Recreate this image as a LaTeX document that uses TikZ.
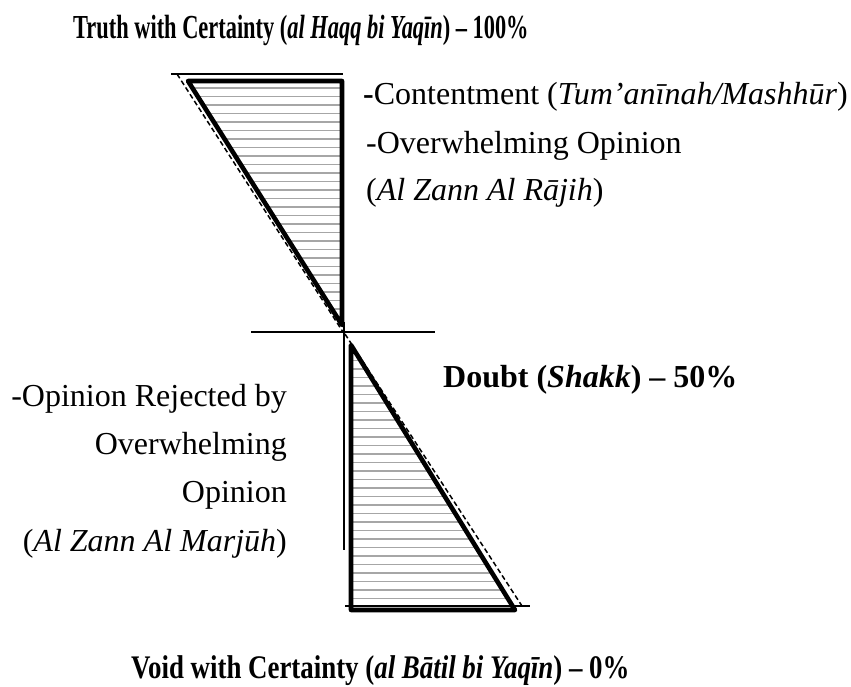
\documentclass[tikz,border=0pt]{standalone}
\usepackage{fontspec}
\setmainfont{Liberation Serif}
\usepackage{graphicx}
\begin{document}
\begin{tikzpicture}[x=1pt,y=-1pt,
  thinline/.style={line width=1.8pt},
  thickline/.style={line width=4.6pt,line join=round},
  dashline/.style={line width=1.5pt,dash pattern=on 5pt off 3pt},
  hatchline/.style={line width=1.8pt,draw=black!35},
  lbl/.style={inner sep=0pt,font=\fontsize{32}{38}\selectfont},
]
\useasboundingbox (0,0) rectangle (851,686);
\fill[white] (0,0) rectangle (851,686);

% upper triangle vertices
\coordinate (ua) at (188,81);
\coordinate (ub) at (342,81);
\coordinate (uc) at (342,325);
% lower triangle vertices
\coordinate (la) at (351,345);
\coordinate (lb) at (351,610);
\coordinate (lc) at (515,610);

% hatching
\begin{scope}
  \clip (ua) -- (ub) -- (uc) -- cycle;
  \foreach \yy in {88,96.5,...,323} \draw[hatchline] (150,\yy) -- (360,\yy);
\end{scope}
\begin{scope}
  \clip (la) -- (lb) -- (lc) -- cycle;
  \foreach \yy in {352,360.5,...,606} \draw[hatchline] (340,\yy) -- (540,\yy);
\end{scope}

% guide lines
\coordinate (t1) at (171,74); \coordinate (t2) at (343,74);
\coordinate (m1) at (251,332); \coordinate (m2) at (435,332);
\coordinate (b1) at (345,606); \coordinate (b2) at (530,606);
\coordinate (v1) at (344,322); \coordinate (v2) at (344,550);
\draw[thinline] (t1) -- (t2);
\draw[thinline] (m1) -- (m2);
\draw[thinline] (b1) -- (b2);
\draw[thinline] (v1) -- (v2);

% dashed lines
\coordinate (d1) at (177,74); \coordinate (d2) at (343,332);
\coordinate (d3) at (345,334); \coordinate (d4) at (522,606);
\draw[dashline] (d1) -- (d2);
\draw[dashline] (d3) -- (d4);

% triangles
\draw[thickline] (ua) -- (ub) -- (uc) -- cycle;
\draw[thickline] (la) -- (lb) -- (lc) -- cycle;

% texts
\node[lbl,anchor=base west] (title) at (73,38) {\scalebox{0.70}[1.05]{\textbf{Truth with Certainty (\textit{al Haqq bi Yaqīn}) – 100\%}}};
\node[lbl,anchor=base west] (void) at (131,678) {\scalebox{0.84}[1.03]{\textbf{Void with Certainty (\textit{al Bātil bi Yaqīn}) – 0\%}}};

\node[lbl,anchor=base west] (cont) at (363,104) {\textbf{-}Contentment (\textit{Tum’anīnah/Mashhūr})};
\node[lbl,anchor=base west] (over) at (366,153) {-Overwhelming Opinion};
\node[lbl,anchor=base west] (rajih) at (366,200) {(\textit{Al Zann Al Rājih})};

\node[lbl,anchor=base west] (doubt) at (443,387) {\textbf{Doubt (\textit{Shakk}) – 50\%}};

\node[lbl,anchor=base east] (rej1) at (287,406) {-Opinion Rejected by};
\node[lbl,anchor=base east] (rej2) at (287,454) {Overwhelming};
\node[lbl,anchor=base east] (rej3) at (287,502) {Opinion};
\node[lbl,anchor=base east] (rej4) at (287,551) {(\textit{Al Zann Al Marjūh})};
\end{tikzpicture}
\end{document}
